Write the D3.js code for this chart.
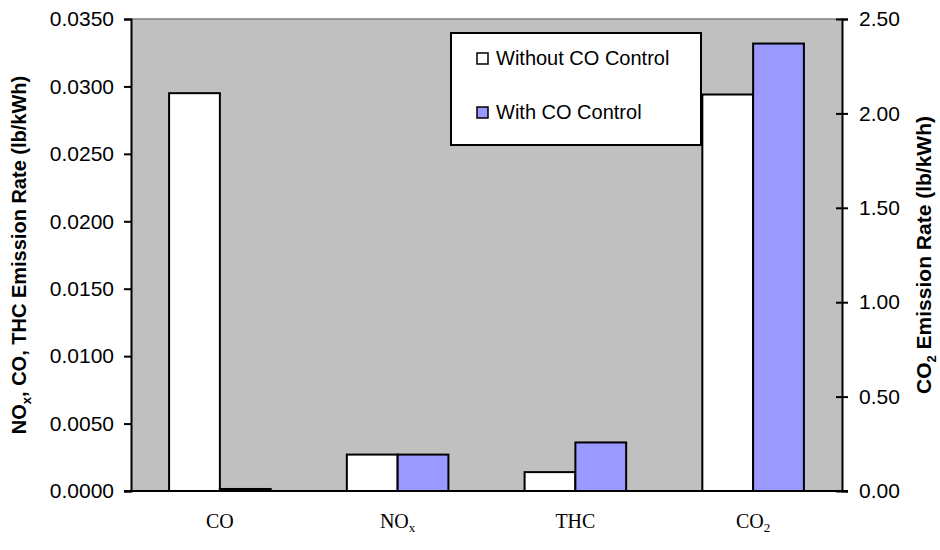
<!DOCTYPE html>
<html>
<head>
<meta charset="utf-8">
<script src="https://cdn.jsdelivr.net/npm/d3@7"></script>
<style>
  html, body { margin: 0; padding: 0; background: #fff; }
  svg { display: block; }
  text { font-family: "Liberation Sans", Arial, sans-serif; fill: #000; }
</style>
</head>
<body>
<svg id="chart" width="940" height="550"></svg>
<script>
// Emission categories along the x axis
const categories = ["CO", "NOx", "THC", "CO2"];
const seriesNames = ["Without CO Control", "With CO Control"];
// Rates in lb/kWh (CO2 is plotted on the secondary axis)
const withoutControl = [0.0295, 0.0027, 0.0014, 2.10];
const withControl    = [0.00015, 0.0027, 0.0036, 2.37];
const leftTicks  = [0, 0.005, 0.010, 0.015, 0.020, 0.025, 0.030, 0.035];
const rightTicks = [0, 0.5, 1.0, 1.5, 2.0, 2.5];
const secondaryCategory = "CO2";

const svg = d3.select("#chart");
const plot = { left: 131, right: 842, top: 19, bottom: 491 };
const colors = ["#ffffff", "#9999ff"];

const x = d3.scaleBand().domain(categories)
  .range([plot.left, plot.right]).paddingInner(0).paddingOuter(0);
const gapRatio = 1.5; // gap between groups relative to a bar width
const barW = x.bandwidth() / (2 + gapRatio);
const xs = d3.scaleBand().domain(seriesNames)
  .range([barW * gapRatio / 2, barW * gapRatio / 2 + 2 * barW]);

const yL = d3.scaleLinear().domain([0, 0.035]).range([plot.bottom, plot.top]);
const yR = d3.scaleLinear().domain([0, 2.5]).range([plot.bottom, plot.top]);

// plot area background
svg.append("rect")
  .attr("x", plot.left).attr("y", plot.top)
  .attr("width", plot.right - plot.left).attr("height", plot.bottom - plot.top)
  .attr("fill", "#c0c0c0");
svg.append("line")
  .attr("x1", plot.left).attr("x2", plot.right)
  .attr("y1", plot.top).attr("y2", plot.top)
  .attr("stroke", "#808080").attr("stroke-width", 1.5);

// bars
const rows = categories.map((c, i) => ({
  cat: c,
  vals: [withoutControl[i], withControl[i]]
}));
const groups = svg.append("g").selectAll("g").data(rows).join("g")
  .attr("transform", d => `translate(${x(d.cat)},0)`);
groups.selectAll("rect")
  .data(d => d.vals.map((v, j) => ({ v, j, cat: d.cat })))
  .join("rect")
  .attr("x", d => xs(seriesNames[d.j]))
  .attr("width", xs.bandwidth())
  .attr("y", d => (d.cat === secondaryCategory ? yR : yL)(d.v))
  .attr("height", d => plot.bottom - (d.cat === secondaryCategory ? yR : yL)(d.v))
  .attr("fill", d => colors[d.j])
  .attr("stroke", "#000").attr("stroke-width", 2);

// left axis
const axL = svg.append("g").attr("transform", `translate(${plot.left},0)`)
  .call(d3.axisLeft(yL).tickValues(leftTicks).tickFormat(d3.format(".4f"))
    .tickSize(7).tickPadding(10));
axL.select(".domain").attr("stroke-width", 2);
axL.selectAll(".tick line").attr("stroke-width", 2);
axL.selectAll("text").attr("font-size", 21).attr("font-family", "Liberation Sans, Arial, sans-serif");

// right axis (ticks cross the axis line)
const axR = svg.append("g").attr("transform", `translate(${plot.right},0)`)
  .call(d3.axisRight(yR).tickValues(rightTicks).tickFormat(d3.format(".2f"))
    .tickSize(6).tickPadding(11));
axR.select(".domain").attr("stroke-width", 2);
axR.selectAll(".tick line").attr("x1", -6).attr("stroke-width", 2);
axR.selectAll("text").attr("font-size", 21).attr("font-family", "Liberation Sans, Arial, sans-serif");

// bottom axis line
svg.append("line")
  .attr("x1", plot.left - 7).attr("x2", plot.right + 6)
  .attr("y1", plot.bottom).attr("y2", plot.bottom)
  .attr("stroke", "#000").attr("stroke-width", 2);

// category labels with subscripts
const subs = { "NOx": ["NO", "x"], "CO2": ["CO", "2"] };
const catText = svg.append("g").selectAll("text").data(categories).join("text")
  .attr("x", d => x(d) + x.bandwidth() / 2)
  .attr("y", 528)
  .attr("text-anchor", "middle")
  .style("font-family", "'Liberation Serif', 'Times New Roman', serif")
  .attr("font-size", 20);
catText.each(function(d) {
  const t = d3.select(this);
  if (subs[d]) {
    t.append("tspan").text(subs[d][0]);
    t.append("tspan").attr("font-size", 13).attr("dy", 4).text(subs[d][1]);
  } else {
    t.text(d);
  }
});

// axis titles
const titleL = svg.append("text")
  .attr("transform", `translate(26,${(plot.top + plot.bottom) / 2}) rotate(-90)`)
  .attr("text-anchor", "middle").attr("font-weight", "bold").attr("font-size", 20);
titleL.append("tspan").text("NO");
titleL.append("tspan").attr("font-size", 13).attr("dy", 5).text("x");
titleL.append("tspan").attr("dy", -5).text(", CO, THC Emission Rate (lb/kWh)");

const titleR = svg.append("text")
  .attr("transform", `translate(931,${(plot.top + plot.bottom) / 2}) rotate(-90)`)
  .attr("text-anchor", "middle").attr("font-weight", "bold").attr("font-size", 21);
titleR.append("tspan").text("CO");
titleR.append("tspan").attr("font-size", 13).attr("dy", 5).text("2");
titleR.append("tspan").attr("dy", -5).text(" Emission Rate (lb/kWh)");

// legend
const leg = svg.append("g").attr("transform", "translate(451,33)");
leg.append("rect").attr("width", 250).attr("height", 112)
  .attr("fill", "#fff").attr("stroke", "#000").attr("stroke-width", 2);
const items = leg.selectAll("g.item").data(seriesNames).join("g")
  .attr("class", "item")
  .attr("transform", (d, i) => `translate(26,${20 + i * 54})`);
items.append("rect").attr("width", 11).attr("height", 11)
  .attr("fill", (d, i) => colors[i]).attr("stroke", "#000").attr("stroke-width", 1.5);
items.append("text").attr("x", 19).attr("y", 12)
  .attr("font-size", 20).text(d => d);
</script>
</body>
</html>
